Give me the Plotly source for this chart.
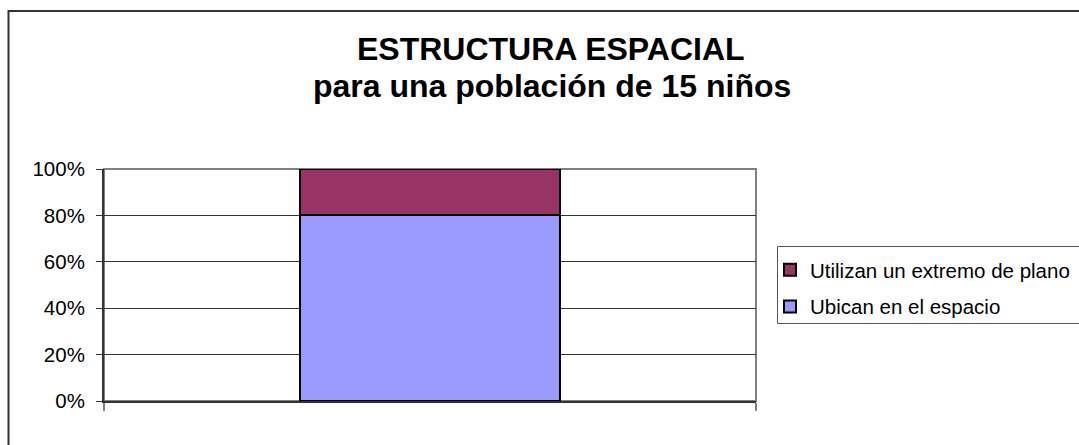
import plotly.graph_objects as go

# Data
categories = [" "]
series_names = ["Ubican en el espacio", "Utilizan un extremo de plano"]
ubican = [12]      # 80% of 15 children
utilizan = [3]     # 20% of 15 children
series_values = [ubican, utilizan]
series_colors = ["#9999FF", "#993366"]
legend_ranks = [2, 1]
y_ticks = [0, 0.2, 0.4, 0.6, 0.8, 1.0]
title_lines = ["ESTRUCTURA ESPACIAL", "para una población de 15 niños"]

FONT = "Liberation Sans, Arial, sans-serif"

W, H = 1079, 445
PL, PR, PT, PB = 104, 756, 169, 401
L, R, T, B = PL, W - PR, PT, H - PB
pw, ph = PR - PL, PB - PT

def px_x(p):
    return (p - PL) / pw

def px_y(p):
    return (PB - p) / ph

fig = go.Figure()
for i, (name, vals, col, rk) in enumerate(zip(series_names, series_values, series_colors, legend_ranks)):
    fig.add_trace(go.Bar(
        x=categories, y=vals, name=name,
        marker=dict(color=col, line=dict(color="#000000", width=2)),
        width=0.4, legendgroup=f"g{i}", legendrank=rk,
    ))

annotations = [
    dict(text=f"<b>{title_lines[0]}</b>", xref="paper", yref="paper",
         x=px_x(551), y=px_y(48.5), xanchor="center", yanchor="middle",
         showarrow=False, font=dict(family=FONT, size=32, color="#000000")),
    dict(text=f"<b>{title_lines[1]}</b>", xref="paper", yref="paper",
         x=px_x(552), y=px_y(85.5), xanchor="center", yanchor="middle",
         showarrow=False, font=dict(family=FONT, size=32, color="#000000")),
]

fig.update_layout(
    width=W, height=H,
    margin=dict(l=L, r=R, t=T, b=B, autoexpand=False),
    paper_bgcolor="white", plot_bgcolor="white",
    barmode="stack", barnorm="fraction",
    font=dict(family=FONT, size=20.5, color="#000000"),
    annotations=annotations,
    showlegend=True,
    legend=dict(
        x=px_x(770), xanchor="left", y=px_y(250), yanchor="top",
        borderwidth=0, bgcolor="rgba(0,0,0,0)",
        font=dict(family=FONT, size=20.5, color="#000000"),
        traceorder="grouped", tracegroupgap=7,
        itemclick=False,
    ),
    xaxis=dict(
        type="category", range=[-0.5, 0.5],
        showticklabels=False, tickson="boundaries",
        ticks="outside", ticklen=8, tickcolor="#808080", tickwidth=2,
        showline=True, linecolor="#333333", linewidth=2,
        showgrid=False, zeroline=False, fixedrange=True,
    ),
    yaxis=dict(
        range=[0, 1], tickvals=y_ticks, tickformat=".0%",
        ticks="outside", ticklen=6, tickcolor="#333333", tickwidth=1,
        ticklabelstandoff=7,
        showline=True, linecolor="#333333", linewidth=2,
        showgrid=True, gridcolor="#333333", gridwidth=1,
        zeroline=False, fixedrange=True,
        tickfont=dict(family=FONT, size=20.5, color="#000000"),
    ),
    shapes=[
        # plot-area border (top and right in gray)
        dict(type="rect", xref="paper", yref="paper", x0=0, x1=1, y0=0, y1=1,
             line=dict(color="#808080", width=2), fillcolor="rgba(0,0,0,0)",
             layer="between"),
        # legend box
        dict(type="rect", xref="paper", yref="paper",
             x0=px_x(777.5), x1=px_x(1100), y0=px_y(323.5), y1=px_y(246.5),
             line=dict(color="#555555", width=1), fillcolor="white",
             layer="above"),
        # outer chart frame
        dict(type="rect", xref="paper", yref="paper",
             x0=px_x(8.5), x1=px_x(1110), y0=px_y(470), y1=px_y(11),
             line=dict(color="#333333", width=2), fillcolor="rgba(0,0,0,0)",
             layer="above"),
    ],
)

fig.write_html(
    "out.html",
    config={"displayModeBar": False},
    post_script="document.body.style.margin='0';document.body.style.overflow='hidden';",
)
